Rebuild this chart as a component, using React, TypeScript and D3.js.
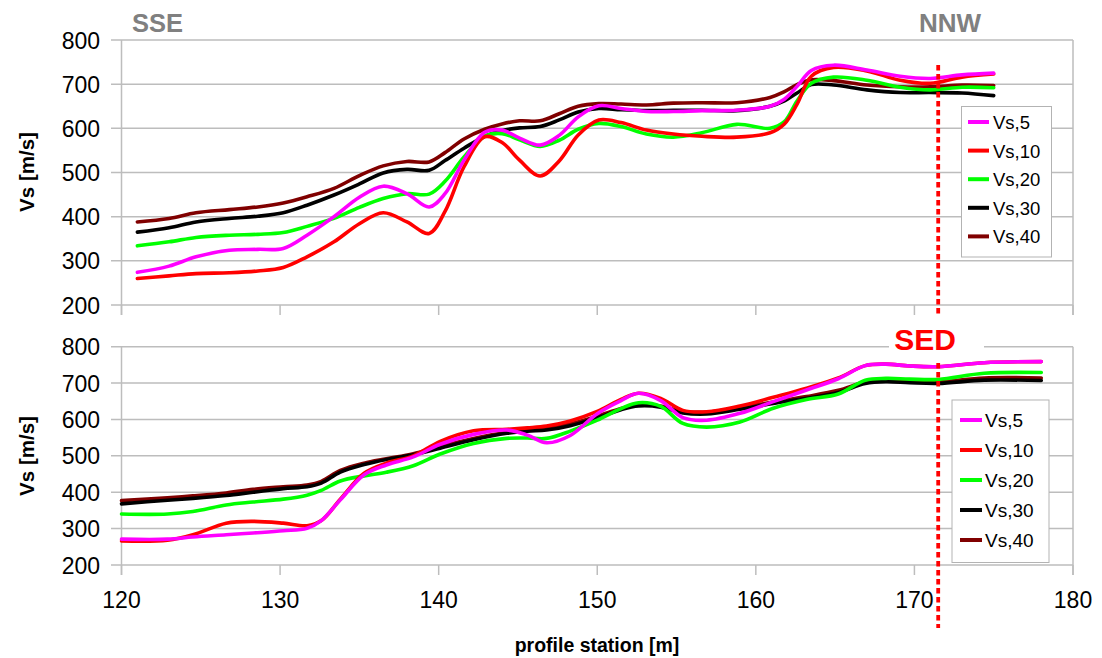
import React from "react";
import * as d3 from "d3";

// ---------- DATA ----------
const seriesNames = ["Vs,5", "Vs,10", "Vs,20", "Vs,30", "Vs,40"];
const seriesColors = ["#ff00ff", "#ff0000", "#00ff00", "#000000", "#800000"];

const xTicks = [120, 130, 140, 150, 160, 170, 180];
const yTicks = [200, 300, 400, 500, 600, 700, 800];

// top panel stations and values
const topStations = [121, 123, 124.7, 126.8, 128.6, 130.2, 131.7, 133.4, 135.0, 136.5, 138.0, 139.4, 140.4, 141.6, 142.9, 144.0, 145.1, 146.4, 147.6, 148.8, 150.1, 151.5, 153.1, 154.8, 156.6, 158.8, 160.9, 161.8, 162.6, 163.5, 164.9, 167.0, 169.1, 171.0, 173.0, 175.0];
const topVs5 = [274, 288, 309, 324, 326, 328, 358, 400, 444, 469, 452, 422, 452, 528, 591, 596, 578, 562, 584, 626, 651, 645, 638, 638, 640, 641, 650, 666, 695, 731, 743, 732, 718, 713, 721, 725];
const topVs10 = [260, 266, 271, 273, 277, 285, 309, 343, 384, 409, 388, 362, 412, 513, 581, 568, 528, 492, 526, 585, 619, 613, 596, 587, 582, 580, 590, 610, 655, 718, 738, 730, 709, 702, 716, 723];
const topVs20 = [334, 343, 353, 358, 360, 364, 378, 396, 421, 441, 452, 451, 480, 535, 582, 588, 574, 559, 573, 598, 611, 604, 587, 580, 590, 609, 600, 615, 662, 702, 716, 709, 693, 687, 693, 692];
const topVs30 = [365, 375, 388, 396, 401, 409, 426, 449, 474, 499, 507, 505, 527, 555, 582, 595, 601, 604, 619, 637, 645, 642, 640, 641, 641, 640, 650, 662, 680, 699, 698, 687, 681, 681, 680, 674];
const topVs40 = [388, 396, 409, 416, 422, 431, 445, 464, 493, 515, 525, 524, 545, 576, 598, 610, 617, 617, 633, 650, 656, 655, 653, 657, 658, 658, 670, 683, 699, 710, 708, 698, 694, 694, 698, 697];

// bottom panel stations and values
const botStations = [120, 122.9, 124.5, 126.6, 128.3, 130.2, 131.7, 132.6, 133.8, 135.3, 136.7, 138.4, 140.1, 142.2, 144.3, 145.6, 146.8, 148.3, 150.0, 151.5, 152.6, 154.0, 155.4, 156.9, 159.0, 161.1, 163.2, 165.2, 166.9, 168.2, 169.7, 171.5, 174.4, 178.0];
const botVs5 = [271, 271, 277, 283, 288, 294, 301, 322, 379, 448, 475, 497, 532, 559, 571, 557, 536, 556, 616, 652, 672, 652, 605, 598, 617, 649, 681, 712, 748, 752, 747, 745, 756, 759];
const botVs10 = [266, 268, 283, 315, 320, 315, 308, 322, 381, 452, 480, 500, 540, 569, 573, 577, 582, 596, 622, 655, 672, 658, 625, 621, 637, 661, 686, 714, 748, 752, 747, 745, 756, 759];
const botVs20 = [340, 340, 347, 365, 373, 381, 392, 405, 431, 445, 455, 473, 505, 534, 548, 549, 548, 568, 598, 630, 646, 636, 589, 579, 593, 631, 655, 670, 708, 713, 711, 710, 727, 729];
const botVs30 = [368, 378, 383, 391, 400, 410, 415, 425, 455, 476, 490, 503, 521, 544, 562, 568, 571, 583, 605, 627, 637, 634, 618, 615, 628, 644, 658, 674, 699, 704, 701, 699, 708, 707];
const botVs40 = [377, 385, 390, 398, 408, 415, 420, 430, 460, 480, 492, 506, 526, 548, 565, 571, 575, 588, 609, 630, 640, 637, 622, 620, 632, 648, 663, 680, 703, 707, 705, 703, 714, 714];

const sedStation = 171.5;

// ---------- LAYOUT ----------
const W = 1102;
const H = 658;
const FONT = "'Liberation Sans', Arial, sans-serif";
const GRID = "#bdbdbd";

const x = d3.scaleLinear().domain([120, 180]).range([121.5, 1073]);
const yTop = d3.scaleLinear().domain([200, 800]).range([305, 40]);
const yBot = d3.scaleLinear().domain([200, 800]).range([565, 346.7]);

const panels = [
  {
    key: "top",
    y: yTop,
    stations: topStations,
    series: [topVs5, topVs10, topVs20, topVs30, topVs40],
    showXLabels: false,
    legend: { x: 961.5, y: 106.5, w: 90, h: 150.5, rowY0: 122, rowStep: 28.6, lineX0: 968, lineX1: 989, textX: 993, fs: 18.5 },
    titleY: 172,
  },
  {
    key: "bot",
    y: yBot,
    stations: botStations,
    series: [botVs5, botVs10, botVs20, botVs30, botVs40],
    showXLabels: true,
    legend: { x: 952, y: 400, w: 97, h: 162.5, rowY0: 420, rowStep: 30, lineX0: 960, lineX1: 982, textX: 985, fs: 19 },
    titleY: 456,
  },
];

function Panel({ p }: { p: any }) {
  const [x0, x1] = x.range();
  const [yb, yt] = p.y.range();
  const line = d3
    .line<[number, number]>()
    .x((d) => x(d[0]))
    .y((d) => p.y(d[1]))
    .curve(d3.curveCatmullRom.alpha(0.5));
  const order = [4, 3, 2, 1, 0];
  return (
    <g>
      {yTicks.map((t) => (
        <line key={"g" + t} x1={x0 - 10.5} x2={x1} y1={p.y(t)} y2={p.y(t)} stroke={GRID} strokeWidth={1.5} />
      ))}
      <line x1={x0} x2={x0} y1={yt} y2={yb + 10} stroke={GRID} strokeWidth={1.5} />
      <line x1={x1} x2={x1} y1={yt} y2={yb + 10} stroke={GRID} strokeWidth={1.5} />
      {xTicks.map((t) => (
        <line key={"t" + t} x1={x(t)} x2={x(t)} y1={yb} y2={yb + 10} stroke={GRID} strokeWidth={1.5} />
      ))}
      {yTicks.map((t) => (
        <text key={"yl" + t} x={100} y={p.y(t) + 8.5} textAnchor="end" fontSize={23} fontFamily={FONT} fill="#000">
          {t}
        </text>
      ))}
      {p.showXLabels &&
        xTicks.map((t) => (
          <text key={"xl" + t} x={x(t)} y={608} textAnchor="middle" fontSize={23} fontFamily={FONT} fill="#000">
            {t}
          </text>
        ))}
      <text
        transform={`translate(34,${p.titleY}) rotate(-90)`}
        textAnchor="middle"
        fontSize={20.5}
        fontWeight="bold"
        fontFamily={FONT}
      >
        Vs [m/s]
      </text>
      {p.key === "bot" && <rect x={889} y={322} width={95} height={30} fill="#fff" />}
      {order.map((i) => (
        <path
          key={"s" + i}
          d={line(p.stations.map((s: number, k: number) => [s, p.series[i][k]]) as [number, number][]) || ""}
          fill="none"
          stroke={seriesColors[i]}
          strokeWidth={3.6}
          strokeLinejoin="round"
          strokeLinecap="round"
        />
      ))}
    </g>
  );
}

function Legend({ L }: { L: any }) {
  return (
    <g>
      <rect x={L.x} y={L.y} width={L.w} height={L.h} fill="#fff" stroke="#b3b3b3" strokeWidth={1} />
      {seriesNames.map((n, i) => {
        const cy = L.rowY0 + i * L.rowStep;
        return (
          <g key={n}>
            <line x1={L.lineX0} x2={L.lineX1} y1={cy} y2={cy} stroke={seriesColors[i]} strokeWidth={4} />
            <text x={L.textX} y={cy + 7} fontSize={L.fs} fontFamily={FONT} fill="#000">
              {n}
            </text>
          </g>
        );
      })}
    </g>
  );
}

export default function App() {
  const sx = x(sedStation);
  return (
    <div style={{ position: "absolute", left: 0, top: 0 }}>
      <svg width={W} height={H} viewBox={`0 0 ${W} ${H}`} style={{ display: "block", background: "#fff" }}>
        <rect width={W} height={H} fill="#fff" />
        {panels.map((p) => (
          <Panel key={p.key} p={p} />
        ))}
        <line x1={sx} x2={sx} y1={65} y2={316} stroke="#ff0000" strokeWidth={3.8} strokeDasharray="5.5 3.5" />
        <line x1={sx} x2={sx} y1={363} y2={628} stroke="#ff0000" strokeWidth={3.8} strokeDasharray="5.5 3.5" />
        {panels.map((p) => (
          <Legend key={"lg" + p.key} L={p.legend} />
        ))}
        <text x={132} y={32} fontSize={25.5} fontWeight="bold" fontFamily={FONT} fill="#808080">
          SSE
        </text>
        <text x={919} y={32} fontSize={26} fontWeight="bold" fontFamily={FONT} fill="#808080">
          NNW
        </text>
        <text x={925} y={350} textAnchor="middle" fontSize={30} fontWeight="bold" fontFamily={FONT} fill="#ff0000">
          SED
        </text>
        <text x={597} y={652} textAnchor="middle" fontSize={19.5} fontWeight="bold" fontFamily={FONT} fill="#000">
          profile station [m]
        </text>
      </svg>
    </div>
  );
}
